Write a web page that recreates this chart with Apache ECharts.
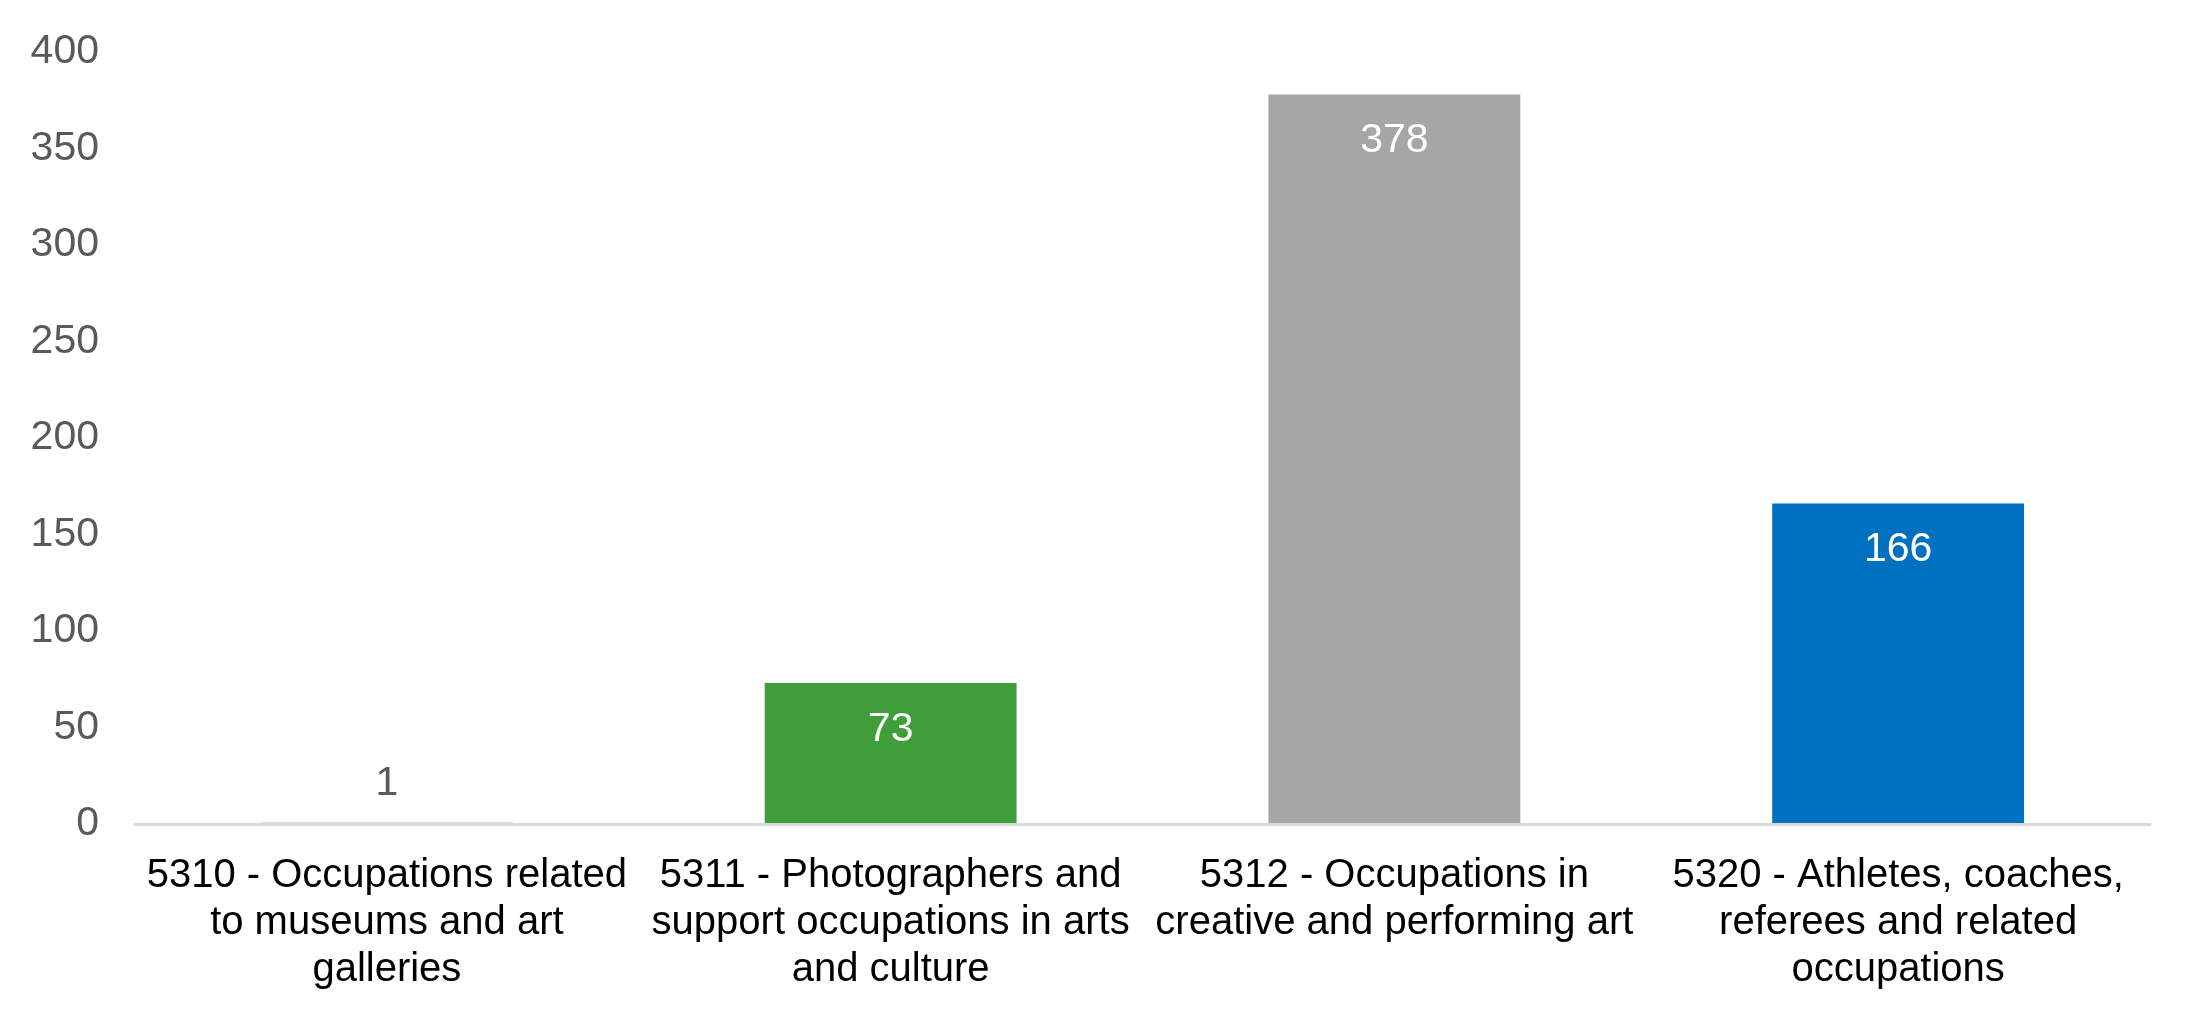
<!DOCTYPE html>
<html>
<head>
<meta charset="utf-8">
<script src="https://cdn.jsdelivr.net/npm/echarts@6/dist/echarts.min.js"></script>
<style>
html,body{margin:0;padding:0;background:#fff;}
#main{width:2203px;height:1020px;}
</style>
</head>
<body>
<div id="main"></div>
<script>
// data
var categories = [
	'5310 - Occupations related\nto museums and art\ngalleries',
	'5311 - Photographers and\nsupport occupations in arts\nand culture',
	'5312 - Occupations in\ncreative and performing art',
	'5320 - Athletes, coaches,\nreferees and related\noccupations'
];
var values = [1, 73, 378, 166];
var barColors = ['#D9D9D9', '#3F9E3A', '#A6A6A6', '#0070C0'];

var font = '"Liberation Sans", Arial, sans-serif';

var myChart = echarts.init(document.getElementById('main'));

var seriesData = [];
for (var i = 0; i < values.length; i++) {
	var item = {
		value: values[i],
		itemStyle: {color: barColors[i]}
	};
	// small bar: label sits above the bar
	if (values[i] < 20) {
		item.label = {position: 'top', distance: 18, color: '#595959'};
	}
	seriesData.push(item);
}

var option = {
	animation: false,
	grid: {
		left: 135,
		right: 53,
		top: 52,
		bottom: 196
	},
	xAxis: {
		type: 'category',
		data: categories,
		z: 5,
		axisLine: {show: true, lineStyle: {color: '#D9D9D9', width: 3}},
		axisTick: {show: false},
		axisLabel: {
			interval: 0,
			margin: 28,
			color: '#000000',
			fontFamily: font,
			fontSize: 40,
			lineHeight: 47
		}
	},
	yAxis: {
		type: 'value',
		min: 0,
		max: 400,
		interval: 50,
		axisLine: {show: false},
		axisTick: {show: false},
		splitLine: {show: false},
		axisLabel: {
			margin: 36,
			color: '#595959',
			fontFamily: font,
			fontSize: 41
		}
	},
	series: [
		{
			type: 'bar',
			barWidth: '50%',
			data: seriesData,
			label: {
				show: true,
				position: 'insideTop',
				distance: 26,
				color: '#FFFFFF',
				fontFamily: font,
				fontSize: 41
			}
		}
	]
};
myChart.setOption(option);
</script>
</body>
</html>
